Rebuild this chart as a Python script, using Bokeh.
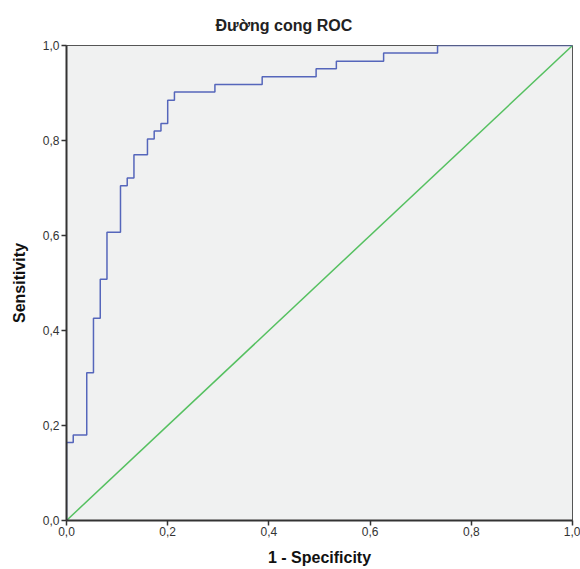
from bokeh.plotting import figure
from bokeh.models import CustomJSTickFormatter, FixedTicker, Range1d
from bokeh.embed import file_html
from bokeh.resources import INLINE

# ROC step curve corner points (1 - specificity, sensitivity)
fpr = [0.0, 0.0, 0.0133, 0.0133, 0.04, 0.04, 0.0533, 0.0533, 0.0667, 0.0667,
       0.08, 0.08, 0.1067, 0.1067, 0.12, 0.12, 0.1333, 0.1333, 0.16, 0.16,
       0.1733, 0.1733, 0.1867, 0.1867, 0.2, 0.2, 0.2133, 0.2133, 0.2933, 0.2933,
       0.3867, 0.3867, 0.4933, 0.4933, 0.5333, 0.5333, 0.6267, 0.6267, 0.7333, 0.7333, 1.0]
tpr = [0.0, 0.164, 0.164, 0.180, 0.180, 0.311, 0.311, 0.426, 0.426, 0.508,
       0.508, 0.607, 0.607, 0.705, 0.705, 0.721, 0.721, 0.770, 0.770, 0.803,
       0.803, 0.820, 0.820, 0.836, 0.836, 0.885, 0.885, 0.902, 0.902, 0.918,
       0.918, 0.934, 0.934, 0.951, 0.951, 0.967, 0.967, 0.984, 0.984, 1.0, 1.0]
ref_x = [0.0, 1.0]
ref_y = [0.0, 1.0]
ticks = [0.0, 0.2, 0.4, 0.6, 0.8, 1.0]

FONT = "Liberation Sans"

p = figure(width=580, height=569, output_backend="svg", toolbar_location=None,
           x_range=Range1d(0, 1), y_range=Range1d(0, 1),
           min_border_left=66, min_border_right=8, min_border_top=45, min_border_bottom=49,
           title="Đường cong ROC")
p.title.text_font = FONT
p.title.text_font_size = "16px"
p.title.text_font_style = "bold"
p.title.align = "left"
p.title.text_color = "#222222"
p.title.offset = 149
p.title.standoff = 23

p.background_fill_color = "#f0f1f1"
p.border_fill_color = "white"
p.outline_line_color = "#555555"
p.outline_line_width = 1
p.grid.visible = False

for ax in (p.xaxis[0], p.yaxis[0]):
    ax.ticker = FixedTicker(ticks=ticks)
    ax.formatter = CustomJSTickFormatter(code="return tick.toFixed(1).replace('.', ',');")
    ax.major_tick_in = 0
    ax.major_tick_out = 5
    ax.minor_tick_line_color = None
    ax.axis_line_color = "#333333"
    ax.axis_line_width = 2
    ax.major_tick_line_color = "#333333"
    ax.major_tick_line_width = 1.5
    ax.major_label_text_font = FONT
    ax.major_label_text_font_size = "12px"
    ax.major_label_text_color = "#333333"
    ax.axis_label_text_font = FONT
    ax.axis_label_text_font_size = "16px"
    ax.axis_label_text_font_style = "bold"
    ax.axis_label_text_color = "#111111"

p.xaxis.axis_label = "1 - Specificity"
p.yaxis.axis_label = "Sensitivity"
p.xaxis.major_label_standoff = 1
p.yaxis.major_label_standoff = 2
p.xaxis.axis_label_standoff = 10
p.yaxis.axis_label_standoff = 12

p.line(ref_x, ref_y, line_color="#55c060", line_width=1.5)
p.line(fpr, tpr, line_color="#5566bb", line_width=1.5)

open("out.html", "w").write(file_html(p, INLINE))
